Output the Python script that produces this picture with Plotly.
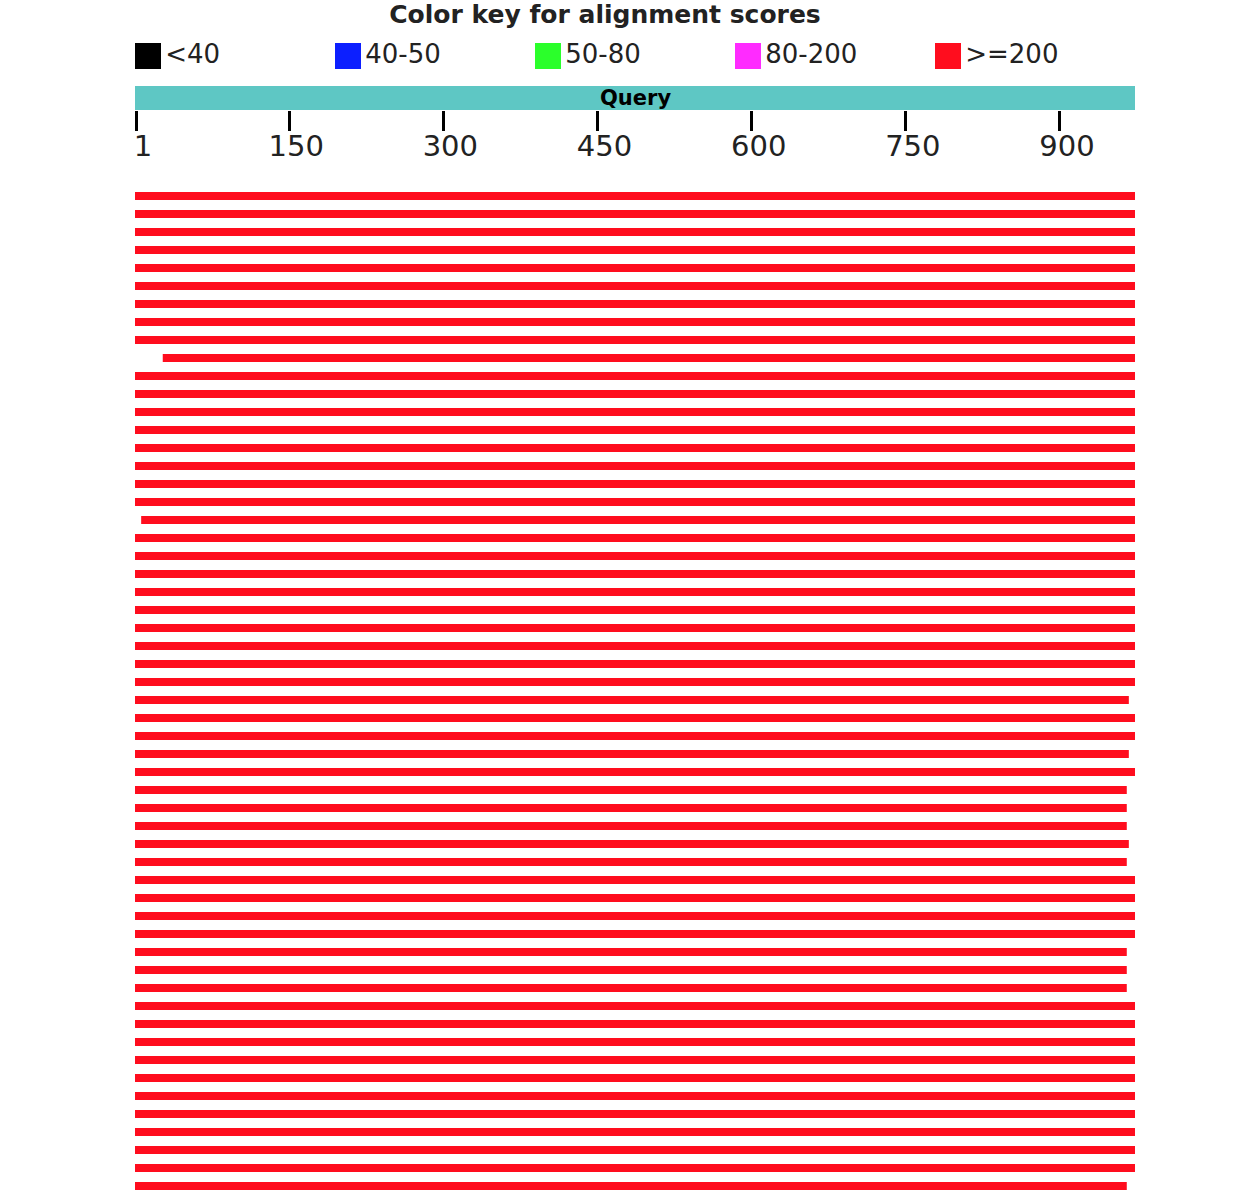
import plotly.graph_objs as go


QUERY_LEN = 973
FONT = "DejaVu Sans"

# Colour key
key_labels = ["&lt;40", "40-50", "50-80", "80-200", "&gt;=200"]
key_colors = ["#000000", "#0C1FFF", "#2BFF2B", "#FF2BFF", "#FF0D1E"]

# Query axis ticks
tick_vals = [1, 150, 300, 450, 600, 750, 900]
tick_text = ["1", "150", "300", "450", "600", "750", "900"]

# Hits (query coordinates), all in the >=200 score bin
hit_start = [
    1, 1, 1, 1, 1, 1, 1, 1, 1, 28,
    1, 1, 1, 1, 1, 1, 1, 1, 7, 1,
    1, 1, 1, 1, 1, 1, 1, 1, 1, 1,
    1, 1, 1, 1, 1, 1, 1, 1, 1, 1,
    1, 1, 1, 1, 1, 1, 1, 1, 1, 1,
    1, 1, 1, 1, 1, 1,
]
hit_end = [
    973, 973, 973, 973, 973, 973, 973, 973, 973, 973,
    973, 973, 973, 973, 973, 973, 973, 973, 973, 973,
    973, 973, 973, 973, 973, 973, 973, 973, 967, 973,
    973, 967, 973, 965, 965, 965, 967, 965, 973, 973,
    973, 973, 965, 965, 965, 973, 973, 973, 973, 973,
    973, 973, 973, 973, 973, 965,
]
hit_bin = [4] * len(hit_start)

W, H = 1240, 1204


def ydom(top_px, bottom_px):
    return [1 - bottom_px / H, 1 - top_px / H]


rows = list(range(len(hit_start)))

fig = go.Figure()

# colour key as a marker row
fig.add_trace(
    go.Scatter(
        x=list(range(len(key_labels))),
        y=[0] * len(key_labels),
        mode="markers+text",
        marker=dict(symbol="square", size=26, color=key_colors, line=dict(width=0)),
        text=key_labels,
        textposition="middle right",
        textfont=dict(family=FONT, size=26, color="#222222"),
        xaxis="x3",
        yaxis="y3",
        hoverinfo="skip",
        cliponaxis=False,
    )
)

# query bar
fig.add_trace(
    go.Bar(
        y=[0],
        x=[QUERY_LEN],
        base=[0],
        orientation="h",
        width=1,
        marker=dict(color="#5EC7C4", line=dict(width=0)),
        xaxis="x",
        yaxis="y2",
        hoverinfo="skip",
    )
)

# alignments
fig.add_trace(
    go.Bar(
        y=rows,
        x=[e - s + 1 for s, e in zip(hit_start, hit_end)],
        base=[s - 1 for s in hit_start],
        orientation="h",
        width=8 / 18,
        marker=dict(color=[key_colors[b] for b in hit_bin], line=dict(width=0)),
        xaxis="x",
        yaxis="y",
        customdata=list(zip(hit_start, hit_end)),
        hovertemplate="%{customdata[0]}-%{customdata[1]}<extra></extra>",
    )
)

fig.add_annotation(
    text="<b>Query</b>",
    x=0.5,
    xref="paper",
    y=0,
    yref="y2",
    showarrow=False,
    font=dict(family=FONT, size=21, color="#000000"),
)

fig.update_layout(
    width=W,
    height=H,
    margin=dict(l=135, r=105, t=0, b=0, pad=0),
    paper_bgcolor="white",
    plot_bgcolor="white",
    showlegend=False,
    title=dict(
        text="<b>Color key for alignment scores</b>",
        x=0.47,
        xref="paper",
        xanchor="center",
        y=1 - 14 / H,
        yref="container",
        yanchor="middle",
        font=dict(family=FONT, size=25, color="#222222"),
    ),
    xaxis=dict(
        range=[0, QUERY_LEN],
        domain=[0, 1],
        anchor="y2",
        side="bottom",
        showgrid=False,
        zeroline=False,
        showline=False,
        ticks="outside",
        ticklen=20,
        tickwidth=3,
        tickcolor="black",
        tickvals=tick_vals,
        ticktext=tick_text,
        ticklabelshift=7,
        ticklabelstandoff=-10,
        tickfont=dict(family=FONT, size=29, color="#222222"),
        fixedrange=True,
    ),
    yaxis=dict(
        range=[len(rows) - 0.5, -0.5],
        domain=ydom(187, 1195),
        visible=False,
        fixedrange=True,
    ),
    yaxis2=dict(
        range=[-0.5, 0.5],
        domain=ydom(86, 110),
        anchor="x",
        visible=False,
        fixedrange=True,
    ),
    xaxis3=dict(
        range=[-0.065, len(key_labels) - 0.065],
        domain=[0, 1],
        anchor="y3",
        visible=False,
        fixedrange=True,
    ),
    yaxis3=dict(
        range=[-1, 1],
        domain=ydom(43, 69),
        anchor="x3",
        visible=False,
        fixedrange=True,
    ),
)

fig.write_html(
    "out.html",
    config={"displayModeBar": False},
    post_script="document.body.style.margin='0';",
)
